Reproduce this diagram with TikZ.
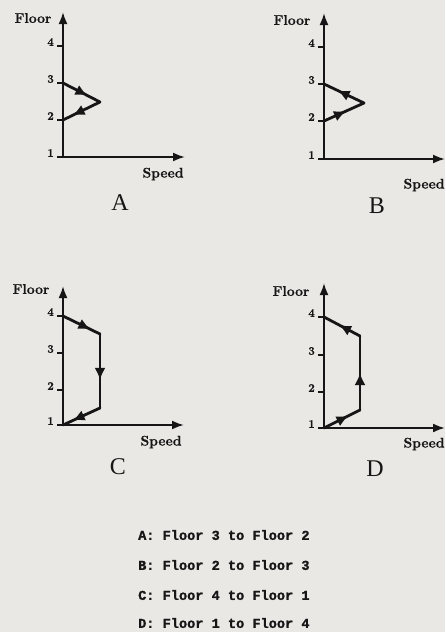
\documentclass[tikz,border=0pt]{standalone}
\usepackage{fontspec}
\newfontfamily\legendfont[BoldFeatures={FakeBold=1.2}]{Liberation Mono}
\newfontfamily\labelfont[BoldFeatures={FakeBold=0.8}]{Latin Modern Roman}
\newfontfamily\namefont{Liberation Serif}
\usetikzlibrary{arrows.meta,decorations.markings}
\definecolor{paper}{RGB}{234,232,229}
\definecolor{ink}{RGB}{22,22,22}
\tikzset{
  axis/.style={draw=ink,line width=2pt,-{Latex[length=12pt,width=9pt]}},
  curve/.style={draw=ink,line width=2.8pt,line cap=round,line join=round},
  midarrow/.style={postaction={decorate},decoration={markings,mark=at position #1 with {\arrow{Latex[length=12pt,width=11pt]}}}},
  midarrow/.default=0.6,
  tickmark/.style={draw=ink,line width=1.2pt},
  ticklabel/.style={anchor=east,inner sep=0pt,text=ink,font=\labelfont\bfseries\fontsize{11.5}{13}\selectfont},
  axlabel/.style={inner sep=0pt,text=ink,font=\labelfont\bfseries\fontsize{14}{16}\selectfont},
  plotname/.style={inner sep=0pt,text=ink,font=\namefont\fontsize{24}{28}\selectfont},
  legendline/.style={anchor=west,inner sep=0pt,text=ink,font=\legendfont\bfseries\fontsize{13.6}{16}\selectfont},
}
\begin{document}
\begin{tikzpicture}[x=1pt,y=-1pt]
\useasboundingbox[fill=paper] (0,0) rectangle (445,632);

% ---------- A ----------
\coordinate (Ao) at (63,157);
\coordinate (Ay) at (63,12);
\coordinate (Ax) at (185,157);
\draw[axis] (Ao) -- (Ay);
\draw[axis] (Ao) -- (Ax);
\foreach \f/\y in {1/157,2/120,3/83,4/46}{
  \draw[tickmark] (57,\y) -- (63,\y);
  \node[ticklabel] (Af\f) at (54,\y-4) {\f};
}
\node[axlabel] (Afloor) at (33,18) {Floor};
\node[axlabel] (Aspeed) at (163,174) {Speed};
\node[plotname] (Aname) at (120,203) {A};
\coordinate (A3) at (63,83);
\coordinate (Ap) at (100,102);
\coordinate (A2) at (63,120);
\draw[curve,midarrow=0.66] (A3) -- (Ap);
\draw[curve,midarrow=0.74] (Ap) -- (A2);

% ---------- B ----------
\coordinate (Bo) at (324,159);
\coordinate (By) at (324,13);
\coordinate (Bx) at (445,159);
\draw[axis] (Bo) -- (By);
\draw[axis] (Bo) -- (Bx);
\foreach \f/\y in {1/159,2/121,3/84,4/47}{
  \draw[tickmark] (318,\y) -- (324,\y);
  \node[ticklabel] (Bf\f) at (315,\y-4) {\f};
}
\node[axlabel] (Bfloor) at (292,20) {Floor};
\node[axlabel] (Bspeed) at (424,185) {Speed};
\node[plotname] (Bname) at (377,206) {B};
\coordinate (B2) at (324,121);
\coordinate (Bp) at (364,103);
\coordinate (B3) at (324,84);
\draw[curve,midarrow=0.55] (B2) -- (Bp);
\draw[curve,midarrow=0.66] (Bp) -- (B3);

% ---------- C ----------
\coordinate (Co) at (63,425);
\coordinate (Cy) at (63,286);
\coordinate (Cx) at (184,425);
\draw[axis] (Co) -- (Cy);
\draw[axis] (Co) -- (Cx);
\foreach \f/\y in {1/425,2/390,3/353,4/316}{
  \draw[tickmark] (57,\y) -- (63,\y);
  \node[ticklabel] (Cf\f) at (54,\y-4) {\f};
}
\node[axlabel] (Cfloor) at (31,289) {Floor};
\node[axlabel] (Cspeed) at (161,442) {Speed};
\node[plotname] (Cname) at (118,467) {C};
\coordinate (C4) at (63,316);
\coordinate (Ca) at (100,334);
\coordinate (Cb) at (100,408);
\coordinate (C1) at (63,425);
\draw[curve,midarrow=0.74] (C4) -- (Ca);
\draw[curve,midarrow=0.62] (Ca) -- (Cb);
\draw[curve,midarrow=0.74] (Cb) -- (C1);

% ---------- D ----------
\coordinate (Do) at (324,428);
\coordinate (Dy) at (324,283);
\coordinate (Dx) at (445,428);
\draw[axis] (Do) -- (Dy);
\draw[axis] (Do) -- (Dx);
\foreach \f/\y in {1/428,2/392,3/355,4/317}{
  \draw[tickmark] (318,\y) -- (324,\y);
  \node[ticklabel] (Df\f) at (315,\y-4) {\f};
}
\node[axlabel] (Dfloor) at (291,291) {Floor};
\node[axlabel] (Dspeed) at (424,444) {Speed};
\node[plotname] (Dname) at (375,469) {D};
\coordinate (D1) at (324,428);
\coordinate (Da) at (360,410);
\coordinate (Db) at (360,336);
\coordinate (D4) at (324,317);
\draw[curve,midarrow=0.68] (D1) -- (Da);
\draw[curve,midarrow=0.5] (Da) -- (Db);
\draw[curve,midarrow=0.58] (Db) -- (D4);

% ---------- legend ----------
\node[legendline] (LA) at (138,535) {A: Floor 3 to Floor 2};
\node[legendline] (LB) at (138,565) {B: Floor 2 to Floor 3};
\node[legendline] (LC) at (138,595) {C: Floor 4 to Floor 1};
\node[legendline] (LD) at (138,623) {D: Floor 1 to Floor 4};
\end{tikzpicture}
\end{document}
